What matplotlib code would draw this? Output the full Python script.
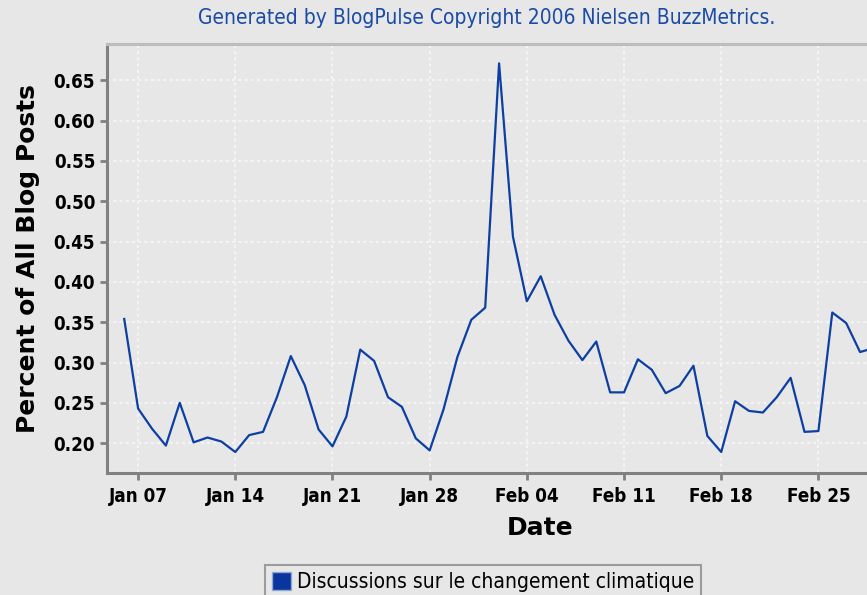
import numpy as np
import matplotlib
matplotlib.use("Agg")
import matplotlib.pyplot as plt
import matplotlib.dates as mdates
from matplotlib.patches import Patch

# daily share of blog posts, starting Jan 06 2006
start_date = "2006-01-06"
values = [
    0.354, 0.243, 0.218, 0.197, 0.250, 0.201, 0.207, 0.202, 0.189, 0.210,
    0.214, 0.257, 0.308, 0.272, 0.217, 0.196, 0.233, 0.316, 0.302, 0.257,
    0.245, 0.206, 0.191, 0.242, 0.307, 0.353, 0.368, 0.671, 0.456, 0.376,
    0.407, 0.359, 0.327, 0.303, 0.326, 0.263, 0.263, 0.304, 0.291, 0.262,
    0.271, 0.296, 0.209, 0.189, 0.252, 0.240, 0.238, 0.257, 0.281, 0.214,
    0.215, 0.362, 0.349, 0.313, 0.318,
]
series_name = "Discussions sur le changement climatique"
y_ticks = [0.20, 0.25, 0.30, 0.35, 0.40, 0.45, 0.50, 0.55, 0.60, 0.65]
x_tick_dates = ["2006-01-07", "2006-01-14", "2006-01-21", "2006-01-28",
                "2006-02-04", "2006-02-11", "2006-02-18", "2006-02-25"]

dates = np.arange(np.datetime64(start_date), np.datetime64(start_date) + len(values))
dates = dates.astype("datetime64[D]").astype(object)
x_ticks = [np.datetime64(d).astype(object) for d in x_tick_dates]

bg = "#E7E7E7"
line_col = "#0D3FA3"
narrow = dict(family="DejaVu Sans", stretch="condensed")

fig = plt.figure(figsize=(8.67, 5.95), dpi=100, facecolor=bg)
ax = fig.add_axes([107 / 867, (595 - 473) / 595, 1 - 107 / 867, (473 - 44) / 595])
ax.set_facecolor(bg)

ax.plot(dates, values, color=line_col, lw=1.6, solid_joinstyle="round")

x0 = mdates.date2num(np.datetime64(start_date).astype(object))
ax.set_xlim(x0 - 1.24, x0 + 53.5)
ax.set_ylim(0.163, 0.695)

ax.set_xticks(x_ticks)
ax.xaxis.set_major_formatter(mdates.DateFormatter("%b %d"))
ax.set_yticks(y_ticks)
ax.yaxis.set_major_formatter(plt.FormatStrFormatter("%.2f"))

ax.grid(True, color="#F4F4F4", lw=1.5, ls=(0, (1.5, 1.5)))
ax.set_axisbelow(True)

for s in ["left", "bottom"]:
    ax.spines[s].set_color("#808080")
    ax.spines[s].set_linewidth(2.2)
ax.spines["top"].set_color("#BDBDBD")
ax.spines["top"].set_linewidth(2.2)
ax.spines["right"].set_visible(False)

ax.tick_params(axis="both", colors="#808080", width=2, length=5,
               labelcolor="black", labelsize=13.5)
ax.tick_params(axis="x", pad=5)
for lab in ax.get_xticklabels() + ax.get_yticklabels():
    lab.set_fontstretch("condensed")
    lab.set_fontweight("bold")

ax.set_ylabel("Percent of All Blog Posts", fontsize=18, fontweight="bold")
ax.yaxis.set_label_coords(-0.088, 0.50)
fig.text(540 / 867, 1 - 528 / 595, "Date", ha="center", va="center",
         fontsize=18, fontweight="bold")

fig.text(487 / 867, 1 - 18 / 595,
         "Generated by BlogPulse Copyright 2006 Nielsen BuzzMetrics.",
         ha="center", va="center", color="#1A4BA5", fontsize=15, **narrow)

handle = Patch(facecolor="#0A349E", edgecolor="#8FA6D6", label=series_name)
leg = fig.legend(handles=[handle], loc="lower center",
                 bbox_to_anchor=(483 / 867, -0.025), frameon=True,
                 fancybox=False, handlelength=0.9, handleheight=0.9,
                 handletextpad=0.3, borderpad=0.35,
                 prop=dict(size=15, **narrow))
leg.get_frame().set_facecolor(bg)
leg.get_frame().set_edgecolor("#8A8A8A")
leg.get_frame().set_linewidth(1.5)

fig.savefig("out.png", dpi=100, facecolor=bg)
